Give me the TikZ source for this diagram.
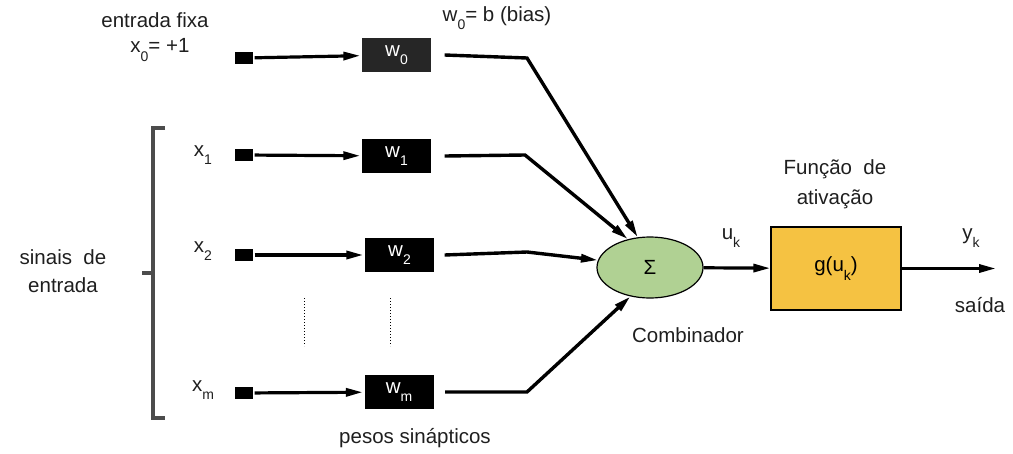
\documentclass[tikz,border=0pt]{standalone}
\usepackage{fontspec}
\setmainfont{Liberation Sans}
\usetikzlibrary{shapes.geometric, arrows.meta}
\newcommand{\lowsub}[1]{\raisebox{-0.8ex}{\fontsize{14}{14}\selectfont #1}}

\begin{document}
\begin{tikzpicture}[x=1pt, y=-1pt, >={Triangle[length=17pt, width=8pt]}, line width=3.2pt]
            \tikzset{
                txt/.style={font=\fontsize{20.5}{24}\selectfont, text=black!88, inner sep=0pt},
                inbox/.style={rectangle, fill=black, minimum width=18pt, minimum height=12pt, inner sep=0pt},
                weight/.style={rectangle, fill=black, text=white, font=\fontsize{20.5}{24}\selectfont, minimum width=69pt, minimum height=34pt, inner sep=0pt},
                link/.style={line width=3.4pt, line join=miter}
            };
            \useasboundingbox (0, 0) rectangle (1013, 453);
            % inputs
            \node[txt] (fixa) at (155, 20) {entrada fixa};
            \node[txt] (x0) at (160, 50) {x\lowsub{0}= +1};
            \node[txt] (x1) at (203, 155) {x\lowsub{1}};
            \node[txt] (x2) at (203, 251) {x\lowsub{2}};
            \node[txt] (xm) at (203, 390) {x\lowsub{m}};
            \node[inbox] (s0) at (244, 58) {};
            \node[inbox] (s1) at (244, 155) {};
            \node[inbox] (s2) at (244, 255) {};
            \node[inbox] (sm) at (244, 393) {};
            % weights
            \node[weight, fill=black!85] (w0) at (396.5, 55) {w\lowsub{0}};
            \node[weight] (w1) at (396.5, 156) {w\lowsub{1}};
            \node[weight] (w2) at (399.5, 255) {w\lowsub{2}};
            \node[weight] (wm) at (399, 392) {w\lowsub{m}};
            \node[txt] (bias) at (497, 18) {w\lowsub{0}= b (bias)};
            \node[txt] (pesos) at (415, 438) {pesos sinápticos};
            \draw[->] (s0) -- (w0);
            \draw[->] (s1) -- (w1);
            \draw[->] (s2) -- (w2);
            \draw[->] (sm) -- (wm);
            % dots
            \draw[line width=1pt, dotted] (304, 298) coordinate (d1) -- (304, 346) coordinate (d2);
            \draw[line width=1pt, dotted] (390, 298) coordinate (d3) -- (390, 346) coordinate (d4);
            % brace
            \draw[black!70, line width=3.2pt] (165, 128) -- (153, 128) -- (153, 418) -- (165, 418);
            \draw[black!70, line width=3.2pt] (153, 273) -- (142, 273);
            \node[txt, align=center] (sinais) at (63, 271) {sinais\ \ de\\[4pt]entrada};
            % combiner
            \node[ellipse, draw, line width=1.2pt, fill={rgb,255:red,176;green,209;blue,147}, minimum width=106pt, minimum height=61pt, font=\fontsize{20.5}{24}\selectfont] (sum) at (650, 267.5) {Σ};
            \node[txt] (comb) at (688, 335) {Combinador};
            \coordinate (c0) at (527, 58);
            \coordinate (c1) at (525, 155);
            \coordinate (c2) at (527, 252);
            \coordinate (cm) at (527, 392);
            \draw[link, ->] ([xshift=12pt]w0.east) -- (c0) -- (sum.112);
            \draw[link, ->] ([xshift=12pt]w1.east) -- (c1) -- (sum.128);
            \draw[link, ->] ([xshift=9pt]w2.east) -- (c2) -- (sum.172);
            \draw[link, ->] ([xshift=10pt]wm.east) -- (cm) -- (sum.236);
            % activation
            \node[rectangle, draw, line width=1.2pt, fill={rgb,255:red,245;green,194;blue,66}, minimum width=130pt, minimum height=83pt, font=\fontsize{20.5}{24}\selectfont] (g) at (836, 268.5) {g(u\lowsub{k})};
            \node[txt, align=center] (ativ) at (835, 184) {Função\ \ de\\[6pt]ativação};
            \node[txt] (uk) at (731, 238) {u\lowsub{k}};
            \draw[->] (sum) -- (g);
            \coordinate (out) at (996, 268.5);
            \draw[->] (g) -- (out);
            \node[txt] (yk) at (971, 238) {y\lowsub{k}};
            \node[txt] (saida) at (980, 305) {saída};
        \end{tikzpicture}
\end{document}
